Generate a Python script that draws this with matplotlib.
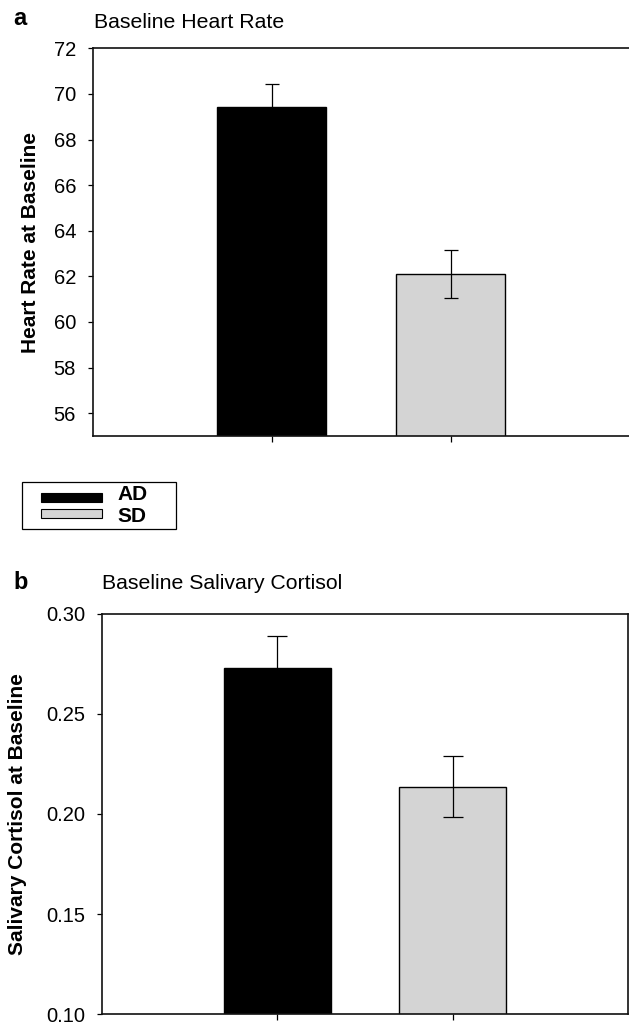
import matplotlib
matplotlib.use("Agg")
import matplotlib.pyplot as plt
from matplotlib.patches import Rectangle
import numpy as np

plt.rcParams['font.family'] = ['Liberation Sans', 'DejaVu Sans']

# ---- data ----
groups = ["AD", "SD"]
colors = ["#000000", "#d4d4d4"]

hr_means = [69.41, 62.10]
hr_sems = [1.02, 1.07]
hr_ticks = [56, 58, 60, 62, 64, 66, 68, 70, 72]

cort_means = [0.2730, 0.2136]
cort_sems = [0.0160, 0.0151]
cort_ticks = [0.10, 0.15, 0.20, 0.25, 0.30]

W, H = 629, 1024
fig = plt.figure(figsize=(W / 100, H / 100), dpi=100)

def fx(px):
    return px / W

def fy(py):
    return 1 - py / H

def panel(rect, means, sems, ylim, ticks, fmt, ylabel, title, letter,
          title_xy, letter_xy, label_x, capsize):
    ax = fig.add_axes(rect)
    x = np.arange(len(groups))
    ax.bar(x, means, width=0.61, color=colors, edgecolor="black",
           linewidth=1.0, zorder=2)
    ax.errorbar(x, means, yerr=sems, fmt="none", ecolor="black",
                elinewidth=0.9, capsize=capsize, capthick=0.9, zorder=3)
    ax.set_xlim(-1, 2)
    ax.set_ylim(*ylim)
    ax.set_xticks(x)
    ax.set_xticklabels([])
    ax.set_yticks(ticks)
    ax.set_yticklabels([fmt.format(t) for t in ticks])
    ax.tick_params(axis="y", direction="out", length=3.5, width=0.9,
                   pad=8.5, labelsize=14.5)
    ax.tick_params(axis="x", direction="out", length=4.5, width=0.9)
    for s in ax.spines.values():
        s.set_linewidth(1.2)
        s.set_color("#111111")
    ax.set_ylabel(ylabel, fontsize=15, fontweight="bold", va="center")
    ax.yaxis.set_label_coords(label_x, 0.5)
    fig.text(fx(title_xy[0]), fy(title_xy[1]), title, fontsize=15.3,
             ha="left", va="baseline")
    fig.text(fx(letter_xy[0]), fy(letter_xy[1]), letter, fontsize=17,
             fontweight="bold", ha="left", va="baseline")
    return ax

# panel a
ax1 = panel([fx(92.7), fy(436), fx(629.5) - fx(92.7), fy(48.3) - fy(436)],
            hr_means, hr_sems, (55, 72), hr_ticks, "{:d}",
            "Heart Rate at Baseline", "Baseline Heart Rate", "a",
            (94, 28), (13, 25), -0.115, 4.8)

# panel b
ax2 = panel([fx(101.7), fy(1014.3), fx(628.3) - fx(101.7), fy(613.6) - fy(1014.3)],
            cort_means, cort_sems, (0.10, 0.30), cort_ticks, "{:.2f}",
            "Salivary Cortisol at Baseline", "Baseline Salivary Cortisol", "b",
            (101.7, 589), (13, 589), -0.160, 7.5)

# legend (drawn in figure pixels)
fig.patches.append(Rectangle((fx(21.7), fy(528.7)), fx(176) - fx(21.7),
                             fy(482.3) - fy(528.7), transform=fig.transFigure,
                             facecolor="white", edgecolor="black", linewidth=0.9))
sw_tops = [492.7, 509.0]
sw_bots = [502.3, 517.7]
txt_centers = [494.7, 516.2]
for g, c, t, b, tc in zip(groups, colors, sw_tops, sw_bots, txt_centers):
    fig.patches.append(Rectangle((fx(40.7), fy(b)), fx(102.3) - fx(40.7),
                                 fy(t) - fy(b), transform=fig.transFigure,
                                 facecolor=c, edgecolor="black", linewidth=0.8))
    fig.text(fx(117.3), fy(tc), g, fontsize=15, fontweight="bold",
             ha="left", va="center")

fig.savefig("out.png", dpi=100)
